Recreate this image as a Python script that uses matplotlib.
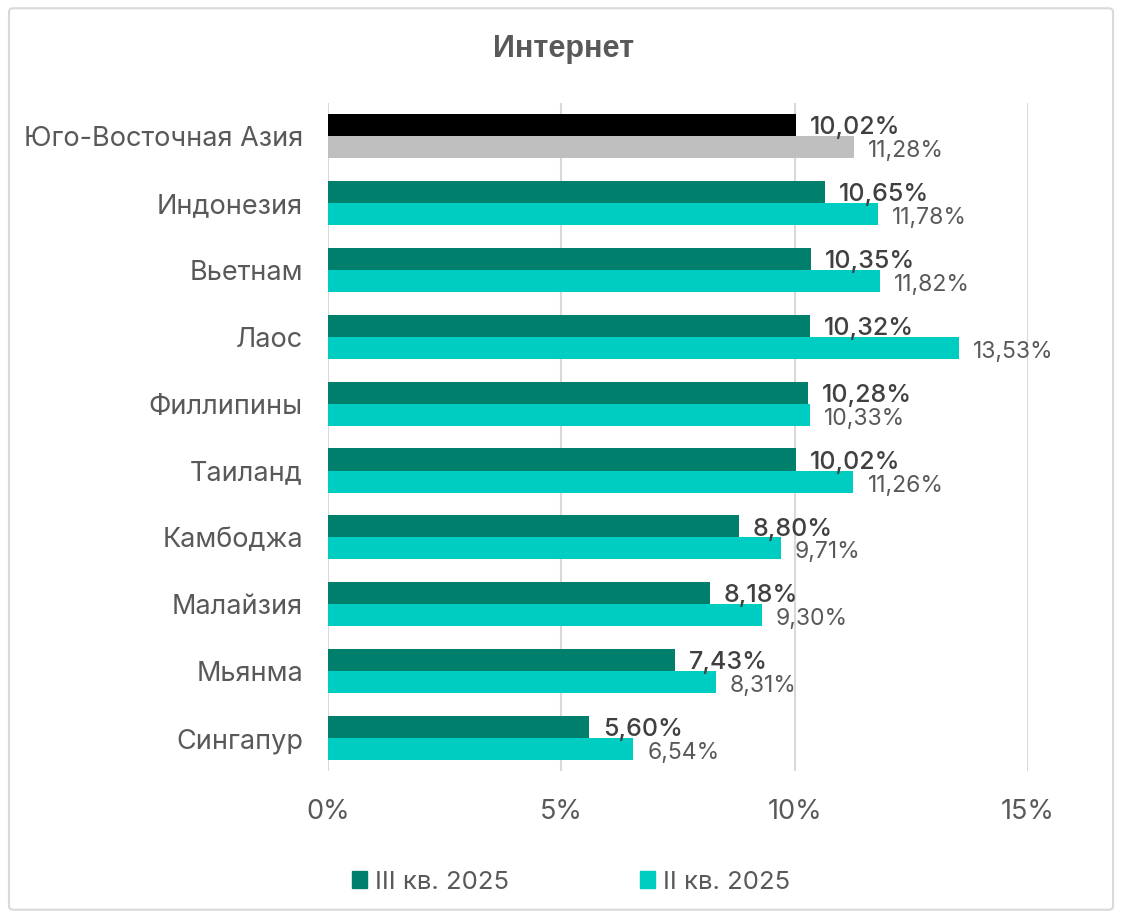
import numpy as np
import matplotlib.pyplot as plt
from matplotlib.patches import FancyBboxPatch, Patch

plt.rcParams['font.family'] = ['Inter', 'DejaVu Sans']

# данные
countries = ['Юго-Восточная Азия', 'Индонезия', 'Вьетнам', 'Лаос', 'Филлипины',
             'Таиланд', 'Камбоджа', 'Малайзия', 'Мьянма', 'Сингапур']
q3 = [10.02, 10.65, 10.35, 10.32, 10.28, 10.02, 8.80, 8.18, 7.43, 5.60]
q2 = [11.28, 11.78, 11.82, 13.53, 10.33, 11.26, 9.71, 9.30, 8.31, 6.54]
xticks = [0, 5, 10, 15]
legend_labels = ['III кв. 2025', 'II кв. 2025']

c_q3 = '#00806C'
c_q2 = '#00CDC1'
txt = '#595959'

fig = plt.figure(figsize=(11.22, 9.18), dpi=100)
fig.patches.append(FancyBboxPatch((0.008, 0.009), 0.984, 0.982,
                                  boxstyle='round,pad=0,rounding_size=0.004',
                                  transform=fig.transFigure, fill=False,
                                  edgecolor='#D9D9D9', linewidth=1.5))

ax = fig.add_axes([0.2923, 0.1596, 0.6239, 0.7286])
y = np.arange(len(countries))
h = 0.33

cols3 = ['black'] + [c_q3] * (len(countries) - 1)
cols2 = ['#BFBFBF'] + [c_q2] * (len(countries) - 1)
ax.barh(y - h / 2, q3, height=h, color=cols3, zorder=3)
ax.barh(y + h / 2, q2, height=h, color=cols2, zorder=3)

def fmt(v):
    return f'{v:.2f}%'.replace('.', ',')

for yi, v in zip(y, q3):
    ax.text(v + 0.3, yi - h / 2 + 0.04, fmt(v), va='center', ha='left',
            fontsize=18, color='#404040', fontweight='medium')
for yi, v in zip(y, q2):
    ax.text(v + 0.3, yi + h / 2 + 0.06, fmt(v), va='center', ha='left',
            fontsize=16.5, color=txt)

ax.set_xlim(0, 15)
ax.set_ylim(len(countries) - 0.5, -0.5)
ax.set_xticks(xticks)
ax.set_xticklabels([f'{t}%' for t in xticks])
ax.set_yticks(y)
ax.set_yticklabels(countries)
ax.tick_params(axis='both', length=0, labelsize=19.5, colors=txt)
ax.tick_params(axis='y', pad=18)
ax.tick_params(axis='x', pad=20)
ax.grid(axis='x', color='#D9D9D9', linewidth=1.5, zorder=0)
for s in ax.spines.values():
    s.set_visible(False)

fig.text(0.502, 0.947, 'Интернет', ha='center', va='center', fontsize=22,
         fontweight='bold', color=txt, family=['Liberation Sans', 'DejaVu Sans'])

handles = [Patch(color=c_q3), Patch(color=c_q2)]
fig.legend(handles, legend_labels, loc='center', bbox_to_anchor=(0.509, 0.039),
           ncol=2, frameon=False, fontsize=18.5, labelcolor=txt,
           handlelength=0.6, handleheight=0.6, handletextpad=0.3,
           columnspacing=5.1)

plt.savefig('out.png', dpi=100)
